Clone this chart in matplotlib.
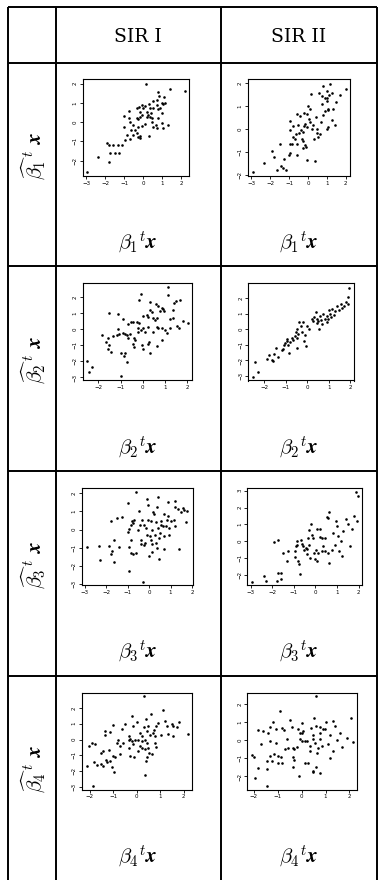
import numpy as np
import matplotlib
matplotlib.use("Agg")
import matplotlib.pyplot as plt
from matplotlib.ticker import MultipleLocator

plt.rcParams["mathtext.fontset"] = "cm"

# table text
col_titles = ["SIR I", "SIR II"]
row_ids = ["1", "2", "3", "4"]

# scatter data: (true projection, estimated projection)
sir1_b1 = [(0.16, 1.97), (0.77, 1.59), (1.42, 1.70), (2.21, 1.62), (0.82, 1.37), (1.12, 1.32),
           (0.72, 1.15), (0.98, 0.97), (1.07, 0.94), (1.16, 0.99), (0.89, 0.75), (0.81, 0.66),
           (0.54, 1.10), (0.33, 0.94), (0.11, 0.85), (-0.23, 0.77), (0.02, 0.71), (-0.16, 0.50),
           (-0.33, 0.19), (-0.25, 0.14), (-0.16, 0.28), (-0.07, 0.37), (0.19, 0.54), (0.28, 0.37),
           (0.37, 0.28), (0.46, 0.19), (0.42, 0.45), (0.23, 0.28), (-1.0, 0.33), (-0.72, 0.19),
           (-0.68, -0.02), (-0.98, -0.24), (-0.86, -0.68), (-0.95, -0.94), (-0.68, -0.89),
           (-0.51, -0.68), (-0.33, -0.59), (-0.25, -0.77), (-0.16, -0.71), (-0.16, -0.85),
           (0.33, -0.71), (0.54, -0.24), (0.68, -0.16), (0.75, -0.33), (1.0, -0.07), (1.07, -0.33),
           (1.33, -0.16), (0.98, 0.45), (0.81, 0.19), (0.46, 0.02), (-0.25, -0.24), (-0.07, -0.21),
           (0.11, -0.12), (-0.42, -0.42), (-0.63, -0.42), (-1.12, -1.2), (-1.3, -1.2),
           (-1.56, -1.17), (-1.91, -1.11), (-1.82, -1.17), (-1.74, -1.63), (-1.47, -1.63),
           (-1.25, -1.63), (-2.35, -1.81), (-1.79, -2.07), (-2.93, -2.59), (-0.72, 0.57),
           (-0.51, -0.16), (-0.33, 0.71), (-0.07, 0.89), (0.54, 0.71), (0.72, 0.89), (0.37, 0.71)]

sir2_b1 = [(-2.94, -1.89), (-2.34, -1.46), (-1.93, -0.96), (-1.81, -1.23), (-1.66, -1.79),
           (-1.45, -1.61), (-1.31, -1.71), (-1.27, -1.29), (-1.17, -1.79), (-1.49, -0.63),
           (-1.01, -1.14), (-0.96, -0.63), (-0.87, -0.63), (-0.96, -0.03), (-0.96, 0.35),
           (-0.78, -0.33), (-0.69, -0.44), (-0.64, -0.21), (-0.6, -1.14), (-0.46, -0.18),
           (-0.39, -0.06), (-0.34, -0.44), (-0.28, -0.54), (-0.25, -0.81), (-0.18, -0.69),
           (-0.11, -0.78), (-0.07, -1.34), (-0.21, 0.12), (-0.14, 0.24), (-0.07, 0.09),
           (0.04, 0.42), (0.11, 0.32), (0.19, 0.02), (0.25, 0.17), (0.32, -0.44), (0.37, -1.38),
           (0.46, -0.18), (0.5, 0.02), (0.55, -0.36), (0.64, -0.21), (0.67, 0.32), (0.42, 0.54),
           (0.11, 0.87), (0.02, 1.02), (0.14, 1.52), (0.6, 1.59), (0.76, 1.11), (0.9, 0.77),
           (0.81, 0.62), (0.99, 1.37), (1.03, 1.22), (1.1, 1.47), (1.08, 0.84), (0.99, 0.02),
           (1.08, 0.09), (-0.42, 0.57), (-0.6, 0.66), (-0.21, 0.69), (-0.07, 0.66), (-0.78, 0.12),
           (-0.51, 0.17), (-0.25, -0.14), (-0.57, -0.63), (-0.96, -1.04), (1.17, 1.98),
           (0.8, 1.89), (1.01, 1.67), (1.28, 1.58), (0.74, 1.44), (0.9, 1.35), (1.06, 0.9),
           (1.33, 0.9), (2.03, 1.75), (1.5, 1.2), (1.7, 1.5), (1.25, 0.4), (1.45, 0.2)]

sir1_b2 = [(1.13, 2.63), (1.13, 2.12), (-0.09, 2.2), (-0.17, 1.83), (0.33, 1.71), (1.69, 1.85),
           (1.51, 1.75), (1.43, 1.67), (0.59, 1.58), (0.71, 1.46), (0.78, 1.13), (0.86, 1.34),
           (0.93, 1.26), (0.33, 1.19), (0.41, 1.09), (0.21, 0.88), (0.0, 0.84), (0.26, 0.78),
           (0.48, 0.68), (0.56, 0.58), (0.63, 0.68), (0.98, 1.13), (1.39, 1.19), (-1.51, 0.99),
           (-1.1, 0.93), (-0.9, 0.64), (-0.54, 0.43), (-0.42, 0.47), (-0.27, 0.43), (-0.15, 0.37),
           (-0.2, 0.06), (-0.09, -0.04), (-0.2, -0.14), (0.03, 0.1), (0.26, 0.16), (0.63, 0.16),
           (0.71, 0.06), (0.86, 0.1), (1.01, -0.04), (1.09, -0.25), (1.24, 0.06), (1.39, 0.68),
           (1.57, 0.23), (1.63, 0.06), (1.84, 0.51), (2.05, 0.37), (1.24, 0.64), (-1.13, 0.0),
           (-1.18, -0.35), (-1.06, -0.31), (-0.87, -0.25), (-0.8, -0.31), (-0.69, -0.35),
           (-0.65, -0.56), (-0.57, -0.31), (-0.38, -0.51), (-0.35, -0.66), (-0.42, -0.93),
           (-0.39, -1.07), (-0.05, -0.97), (0.0, -1.21), (0.23, -0.93), (0.3, -0.8), (0.63, -1.01),
           (0.86, -0.66), (0.33, -1.48), (-1.83, -0.35), (-1.55, -0.51), (-1.66, -0.76),
           (-1.51, -0.97), (-1.58, -1.21), (-1.45, -1.42), (-1.36, -0.41), (-0.98, -1.48),
           (-0.8, -1.48), (-0.84, -1.69), (-0.69, -2.06), (-0.98, -2.92), (-2.5, -1.95),
           (-2.41, -2.65), (-2.28, -2.37), (-0.65, 0.31), (0.11, -0.14), (0.48, -0.14)]

sir2_b2 = [(-2.54, -3.05), (-2.31, -2.73), (-2.43, -2.1), (-1.86, -1.93), (-1.77, -1.67),
           (-1.66, -1.97), (-1.58, -2.04), (-1.53, -1.61), (-1.46, -1.18), (-1.38, -1.78),
           (-1.19, -1.35), (-1.12, -1.24), (-1.09, -1.03), (-1.04, -0.86), (-0.93, -0.75),
           (-0.96, -0.6), (-0.88, -1.03), (-0.85, -1.5), (-0.78, -0.82), (-0.73, -0.54),
           (-0.65, -0.69), (-0.57, -0.43), (-0.53, -0.21), (-0.5, 0.0), (-0.47, -0.54),
           (-0.42, -0.32), (-0.5, -1.18), (-0.37, 0.43), (-0.31, 0.21), (-0.26, -0.21),
           (-0.19, 0.47), (-0.16, -0.75), (-0.11, -0.39), (-0.06, -1.07), (0.0, 0.21), (0.09, 0.0),
           (0.2, 0.64), (0.28, 0.54), (0.31, 0.75), (0.4, 1.07), (0.43, 0.64), (0.47, 0.39),
           (0.51, 0.54), (0.56, 0.0), (0.62, 0.6), (0.74, 0.97), (0.82, 0.64), (0.9, 0.43),
           (0.98, 0.64), (0.93, 0.82), (1.05, 1.0), (1.1, 0.75), (1.15, 1.3), (1.25, 0.9),
           (1.3, 1.15), (1.4, 1.45), (1.45, 1.2), (1.55, 1.6), (1.6, 1.35), (1.7, 1.5),
           (1.8, 1.75), (1.9, 1.6), (1.9, 2.05), (1.95, 2.65), (1.0, 1.2), (0.7, 0.35), (0.6, 0.85)]

sir1_b3 = [(-0.03, 1.36), (0.38, 1.27), (1.2, 1.22), (1.35, 1.15), (1.62, 1.09), (-0.49, 1.0),
           (0.18, 0.96), (0.23, 0.85), (0.69, 0.85), (0.89, 0.73), (0.82, 0.55), (1.0, 0.45),
           (1.15, 0.55), (1.2, 0.18), (-1.49, 0.64), (-1.28, 0.69), (-1.8, 0.49), (-0.8, 0.49),
           (-0.74, 0.36), (-0.85, 0.27), (-0.69, 0.55), (-0.34, 0.55), (-0.03, 0.55), (0.11, 0.49),
           (0.34, 0.42), (0.54, 0.45), (0.66, 0.18), (0.77, 0.18), (0.43, 0.09), (-0.23, 0.27),
           (-0.43, 0.24), (-0.92, 0.05), (-0.97, -0.13), (-0.08, -0.27), (0.05, -0.36),
           (0.28, -0.27), (0.46, -0.45), (0.69, -0.36), (0.92, -0.27), (0.49, -0.18), (0.08, -0.6),
           (-0.18, -0.73), (-0.38, -0.82), (-0.26, -0.85), (-0.85, -0.6), (-0.38, -0.6),
           (-0.92, -0.95), (-0.85, -1.27), (-0.77, -1.33), (-0.62, -1.27), (0.0, -1.45),
           (0.12, -1.24), (0.38, -1.04), (0.69, -1.09), (1.38, -1.05), (0.46, -1.64),
           (-1.62, -0.55), (-1.43, -0.95), (-1.72, -1.18), (-1.77, -1.36), (-1.89, -0.91),
           (-2.35, -0.91), (-2.92, -0.96), (-2.31, -1.67), (-1.62, -1.78), (-0.92, -2.27),
           (-0.28, -2.87), (-0.54, 0.0), (-0.15, 0.09), (0.15, 0.0), (0.54, 0.27), (0.92, 0.09),
           (0.15, -0.82), (0.31, -0.73), (1.79, 1.0), (1.6, 1.2), (1.7, 0.4), (1.5, 0.95),
           (-0.6, 2.09), (0.4, 1.8), (-0.1, 1.7), (0.9, 1.5), (1.2, 1.6), (-1.0, 1.45)]

sir2_b3 = [(-2.95, -2.39), (-2.36, -2.06), (-2.29, -2.35), (-1.79, -2.35), (-1.72, -1.86),
           (-1.59, -1.86), (-1.61, -2.25), (-1.48, -0.69), (-1.33, -1.14), (-1.25, -0.55),
           (-1.92, -0.04), (-1.75, 0.06), (-0.94, -0.55), (-0.94, -0.94), (-0.9, -0.29),
           (-0.87, 0.04), (-0.83, -0.24), (-0.79, -1.18), (-0.74, -1.37), (-0.71, -1.92),
           (-0.68, 0.1), (-0.62, -0.16), (-0.56, -0.29), (-0.53, -0.49), (-0.45, -0.39),
           (-0.4, -0.45), (-0.37, -0.78), (-0.32, 0.2), (-0.28, 0.69), (-0.2, 1.04), (-0.28, -0.2),
           (-0.25, -0.98), (-0.14, 0.35), (-0.09, 0.2), (-0.06, -0.69), (-0.02, -1.02),
           (0.06, -1.18), (0.09, 0.75), (0.22, 0.75), (0.22, 0.25), (0.29, 0.2), (0.29, -0.59),
           (0.37, -0.29), (0.45, 0.2), (0.53, 1.47), (0.6, 1.37), (0.03, -0.49), (0.14, -0.69),
           (0.45, -0.59), (0.6, -0.69), (0.65, -1.27), (0.65, 1.76), (1.9, 2.95), (1.96, 2.7),
           (1.8, 1.5), (1.95, 1.2), (1.5, 1.0), (1.3, 0.6), (1.2, 0.0), (1.05, 0.3), (0.9, -0.2),
           (1.1, -0.6), (0.8, 0.5), (1.4, 1.3), (1.6, -0.3), (1.0, 0.9), (0.75, -0.5),
           (1.25, -0.9), (1.7, 0.7), (0.95, 1.2)]

sir1_b4 = [(-0.14, 0.83), (-0.64, 0.66), (-1.35, 0.52), (-1.35, 0.31), (-1.13, 0.46), (-0.35, 0.21),
           (-0.28, 0.06), (-0.31, -0.06), (-0.21, -0.1), (-0.07, 0.0), (0.04, -0.06), (0.14, 0.41),
           (0.21, 0.21), (0.31, 0.77), (0.43, 0.52), (0.5, 0.83), (0.57, 0.31), (0.71, 0.41),
           (0.78, 0.21), (0.82, 0.83), (0.74, 0.62), (0.21, -0.1), (0.35, -0.06), (0.45, -0.21),
           (0.14, -0.41), (0.21, -0.56), (0.07, -0.72), (0.35, -0.62), (0.5, -0.52), (0.52, -0.83),
           (0.45, -1.14), (0.4, -1.39), (0.35, -2.28), (-0.14, -0.31), (-0.35, -0.52),
           (-0.57, -0.21), (-0.71, -0.41), (-0.85, -0.21), (-0.78, -0.06), (-0.28, -1.04),
           (-0.11, -1.14), (-0.71, -0.89), (-0.92, -1.14), (-0.99, -1.04), (-1.06, -1.76),
           (-0.95, -2.07), (-1.16, -0.68), (-1.3, -1.3), (-1.13, -1.35), (-1.25, -1.45),
           (-1.42, -1.66), (-1.53, -1.55), (-1.45, -0.72), (-1.52, -0.83), (-1.67, -1.59),
           (-1.82, -1.45), (-1.91, -0.21), (-2.03, -0.41), (-1.77, -0.31), (-2.13, -1.66),
           (-1.87, -2.96), (0.78, -0.21), (0.82, -0.48), (0.64, -0.93), (1.02, 0.31), (1.28, 0.83),
           (1.35, 0.35), (1.53, 0.21), (1.56, 0.83), (1.7, 0.77), (2.16, 0.35), (0.0, 1.1),
           (0.4, 1.3), (0.9, 1.05), (1.2, 1.2), (1.5, 1.0), (-0.5, 1.0), (0.6, 1.6), (1.8, 1.1),
           (-1.0, 0.95), (0.3, 2.75), (1.1, 1.9), (-0.2, 1.5)]

sir2_b4 = [(-1.85, 0.58), (-1.61, 0.49), (-1.4, 0.4), (-1.33, 0.7), (-1.08, 0.63), (-0.84, 0.67),
           (-0.74, 0.58), (-0.42, 0.7), (-0.14, 0.63), (-0.07, 0.4), (0.07, 0.52), (0.38, 0.67),
           (0.6, 0.76), (0.77, 0.7), (0.88, 0.63), (0.98, 0.63), (-1.72, -0.2), (-1.33, -0.05),
           (-1.09, -0.14), (-0.6, 0.04), (-0.07, 0.04), (0.0, -0.02), (0.14, -0.02), (0.21, -0.05),
           (0.49, 0.04), (0.77, 0.09), (0.35, -0.32), (0.56, -0.14), (0.7, -0.41), (0.84, -0.32),
           (0.35, -0.59), (0.63, -0.68), (-0.21, -0.38), (-0.32, -0.5), (-0.38, -0.45),
           (-0.56, -0.45), (-0.7, -0.47), (-1.16, -0.74), (-0.98, -0.86), (-0.87, -0.95),
           (-0.98, -1.28), (-0.84, -1.28), (-1.33, -0.86), (-1.44, -1.14), (-1.26, -1.14),
           (-2.1, -0.83), (-2.0, -0.9), (-1.82, -1.55), (-1.44, -1.59), (-0.35, -0.95),
           (-0.32, -1.1), (-0.38, -1.5), (-0.1, -1.95), (0.14, -1.28), (0.28, -1.28), (0.49, -1.68),
           (0.49, -1.77), (0.6, -1.5), (0.77, -1.82), (-1.96, -2.07), (-1.47, -2.52), (0.0, 0.4),
           (0.77, 0.4), (0.46, 0.31), (1.2, 0.3), (1.5, 0.0), (1.7, -0.4), (1.9, 0.1), (2.15, -0.1),
           (1.3, -0.6), (1.1, -0.2), (1.6, 0.4), (1.2, -1.0), (1.4, 0.8), (0.5, 1.25), (1.0, 1.0),
           (-0.5, 1.1), (-1.2, 1.0), (0.0, 0.95), (2.05, 1.2), (1.3, 1.05), (0.6, 2.43), (-0.9, 1.6)]

panel_data = [[sir1_b1, sir2_b1], [sir1_b2, sir2_b2], [sir1_b3, sir2_b3], [sir1_b4, sir2_b4]]

# axis ranges for each panel (x range, y range)
panel_lims = [[((-3.18, 2.42), (-2.80, 2.24)), ((-3.20, 2.23), (-2.05, 2.19))],
              [((-2.71, 2.23), (-3.19, 2.86)), ((-2.74, 2.17), (-3.28, 2.92))],
              [((-3.15, 2.05), (-3.05, 2.29)), ((-3.15, 2.16), (-2.59, 3.16))],
              [((-2.34, 2.35), (-3.17, 2.98)), ((-2.28, 2.32), (-2.72, 2.63))]]

W, H = 380, 880
fig = plt.figure(figsize=(W / 100, H / 100), dpi=100)
fig.patch.set_facecolor("white")

# background axes in pixel units for the table grid and text
bg = fig.add_axes([0, 0, 1, 1])
bg.set_xlim(0, W)
bg.set_ylim(H, 0)
bg.axis("off")

col_x = [8, 55.5, 221, 376.5]
row_y = [7, 63, 266, 471, 676]
lw = 1.4
for x in col_x:
    bg.plot([x, x], [row_y[0], H], color="black", lw=lw, solid_capstyle="butt")
for y in row_y:
    bg.plot([col_x[0], col_x[-1]], [y, y], color="black", lw=lw, solid_capstyle="butt")

cell_cx = [(col_x[1] + col_x[2]) / 2, (col_x[2] + col_x[3]) / 2]
for cx, title in zip(cell_cx, col_titles):
    bg.text(cx, 37, title, ha="center", va="center", fontsize=13.5, family="DejaVu Serif")

pitch = 204.5
for i, rid in enumerate(row_ids):
    top = row_y[1] + i * pitch
    # rotated row label
    bg.text(34, top + 93, r"$\widehat{\beta_%s}^{\,t}\ \boldsymbol{x}$" % rid, rotation=90,
            ha="center", va="center", fontsize=15)
    for j, cx in enumerate(cell_cx):
        bg.text(cx, top + 180, r"$\beta_%s{}^{t}\boldsymbol{x}$" % rid,
                ha="center", va="center", fontsize=15)

# scatter panels: box edges in pixels (left, right) per column, top offset in row
box_lr = [[(82.7, 189), (247.7, 350)], [(82.7, 192), (248.3, 354)],
          [(81.7, 193), (247.3, 362)], [(81.7, 192), (247.3, 357)]]
for i in range(4):
    top = 79 + i * pitch
    bottom = top + 97
    for j in range(2):
        left, right = box_lr[i][j]
        ax = fig.add_axes([left / W, 1 - bottom / H, (right - left) / W, (bottom - top) / H])
        pts = np.array(panel_data[i][j])
        ax.scatter(pts[:, 0], pts[:, 1], s=3.5, color="black", linewidths=0)
        (x0, x1), (y0, y1) = panel_lims[i][j]
        ax.set_xlim(x0, x1)
        ax.set_ylim(y0, y1)
        ax.xaxis.set_major_locator(MultipleLocator(1))
        ax.yaxis.set_major_locator(MultipleLocator(1))
        ax.tick_params(direction="out", length=2, width=0.6, labelsize=4, pad=1.5)
        for lab in ax.get_yticklabels():
            lab.set_rotation(90)
            lab.set_va("center")
        for sp in ax.spines.values():
            sp.set_linewidth(0.8)

fig.savefig("out.png", dpi=100)
